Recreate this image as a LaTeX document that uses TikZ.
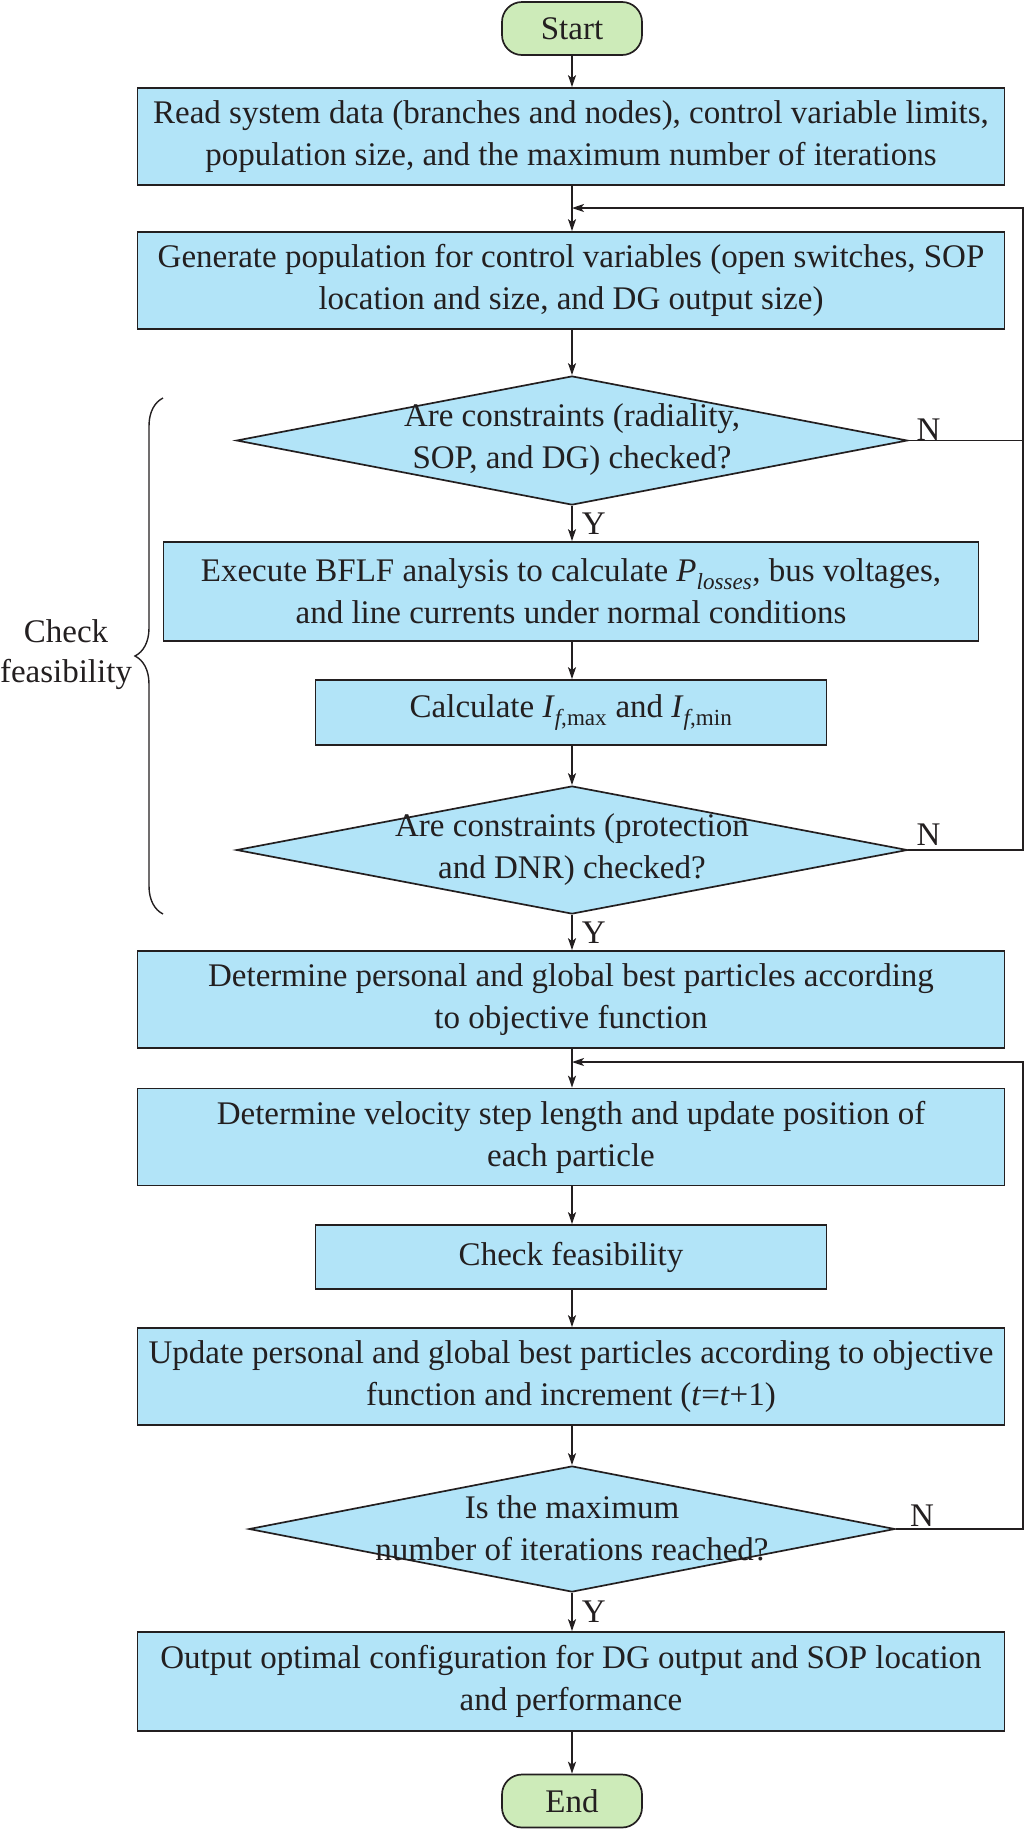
\documentclass[tikz,border=0pt]{standalone}
\usepackage{fontspec}
\setmainfont{Liberation Serif}
\usetikzlibrary{arrows.meta, shapes.geometric, decorations.pathreplacing}
\definecolor{boxc}{HTML}{B2E4F8}
\definecolor{termc}{HTML}{CDEBB9}
\definecolor{lc}{HTML}{231F20}
\newcommand{\fsz}{\fontsize{33}{42}\selectfont}
\begin{document}
\begin{tikzpicture}[x=1pt,y=-1pt]
\tikzset{
  proc/.style={draw=lc, fill=boxc, line width=1.7pt, align=center, inner sep=0pt, font=\fsz, text=lc},
  term/.style={draw=lc, fill=termc, line width=1.7pt, rounded corners=20pt, inner sep=0pt, font=\fsz, text=lc, minimum width=140pt, minimum height=53pt},
  dia/.style={draw=lc, fill=boxc, line width=1.7pt, diamond, inner sep=0pt},
  diatext/.style={align=center, inner sep=0pt, font=\fsz, text=lc},
  arr/.style={-{Stealth[length=12pt,width=8pt,inset=3pt]}, line width=1.5pt, draw=lc},
  lnk/.style={line width=1.5pt, draw=lc},
  lbl/.style={font=\fsz, text=lc, inner sep=0pt}
}
\useasboundingbox (0,0) rectangle (1026,1832);

\node[term] (start) at (572,28.5) {Start};
\node[proc, minimum width=867pt, minimum height=97pt] (b1) at (571,136.5)
  {Read system data (branches and nodes), control variable limits,\\population size, and the maximum number of iterations};
\node[proc, minimum width=867pt, minimum height=97pt] (b2) at (571,280.5)
  {Generate population for control variables (open switches, SOP\\location and size, and DG output size)};
\node[dia, minimum width=671pt, minimum height=129pt] (d1) at (572,440.5) {};
\node[diatext] (d1t) at (572,440) {Are constraints (radiality,\\SOP, and DG) checked?};
\node[proc, minimum width=815pt, minimum height=99pt] (b3) at (571,591.5)
  {Execute BFLF analysis to calculate \textit{P}\textsubscript{\textit{losses}}, bus voltages,\\and line currents under normal conditions};
\node[proc, minimum width=511pt, minimum height=65pt] (b4) at (571,712.5)
  {Calculate \textit{I}\textsubscript{\textit{f},max} and \textit{I}\textsubscript{\textit{f},min}};
\node[dia, minimum width=671pt, minimum height=128pt] (d2) at (572,850) {};
\node[diatext] (d2t) at (572,850) {Are constraints (protection\\and DNR) checked?};
\node[proc, minimum width=867pt, minimum height=97pt] (b5) at (571,999.5)
  {Determine personal and global best particles according\\to objective function};
\node[proc, minimum width=867pt, minimum height=97pt] (b6) at (571,1137)
  {Determine velocity step length and update position of\\each particle};
\node[proc, minimum width=511pt, minimum height=64pt] (b7) at (571,1257) {Check feasibility};
\node[proc, minimum width=867pt, minimum height=97pt] (b8) at (571,1376.5)
  {Update personal and global best particles according to objective\\function and increment (\textit{t}=\textit{t}+1)};
\node[dia, minimum width=646pt, minimum height=126pt] (d3) at (572,1529) {};
\node[diatext] (d3t) at (572,1528) {Is the maximum\\number of iterations reached?};
\node[proc, minimum width=867pt, minimum height=99pt] (b9) at (571,1681.5)
  {Output optimal configuration for DG output and SOP location\\and performance};
\node[term] (stop) at (572,1801) {End};

\coordinate (j1) at (572,208);
\coordinate (r1) at (1023,208);
\coordinate (j2) at (572,1062);
\coordinate (r2) at (1023,1062);

\draw[arr] (start.south) -- (start.south |- b1.north);
\draw[arr] (start.south |- b1.south) -- (start.south |- b2.north);
\draw[arr] (start.south |- b2.south) -- (d1.north);
\draw[arr] (d1.south) -- node[lbl, right, xshift=9pt] {Y} (d1.south |- b3.north);
\draw[arr] (d1.south |- b3.south) -- (d1.south |- b4.north);
\draw[arr] (d1.south |- b4.south) -- (d2.north);
\draw[arr] (d2.south) -- node[lbl, right, xshift=9pt] {Y} (d2.south |- b5.north);
\draw[arr] (d2.south |- b5.south) -- (d2.south |- b6.north);
\draw[arr] (d2.south |- b6.south) -- (d2.south |- b7.north);
\draw[arr] (d2.south |- b7.south) -- (d2.south |- b8.north);
\draw[arr] (d2.south |- b8.south) -- (d3.north);
\draw[arr] (d3.south) -- node[lbl, right, xshift=9pt] {Y} (d3.south |- b9.north);
\draw[arr] (d3.south |- b9.south) -- (stop.north);

\draw[arr] (d1.east) -| (r1) -- (j1);
\draw[lnk] (d2.east) -| (r1);
\draw[arr] (d3.east) -| (r2) -- (j2);

\node[lbl, anchor=south west, xshift=8pt, yshift=0pt] (n1) at (d1.east) {N};
\node[lbl, anchor=south west, xshift=8pt, yshift=4pt] (n2) at (d2.east) {N};
\node[lbl, anchor=south west, xshift=14pt, yshift=2pt] (n3) at (d3.east) {N};

\draw[lc, line width=1.4pt, decorate, decoration={brace, amplitude=28pt}] (163,914) -- (163,398);
\node[align=center, inner sep=0pt, text=lc, font=\fontsize{33}{40}\selectfont] (cf) at (66,655) {Check\\feasibility};
\end{tikzpicture}
\end{document}
